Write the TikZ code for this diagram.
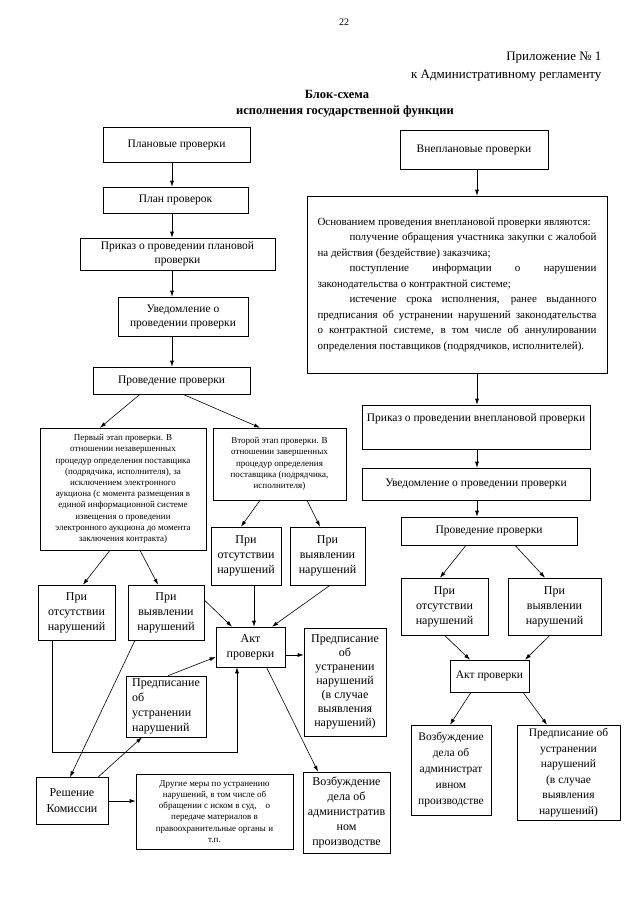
\documentclass[tikz,border=0pt]{standalone}
\usepackage{fontspec}
\setmainfont{Liberation Serif}
\usetikzlibrary{arrows.meta,calc}

\begin{document}
\begin{tikzpicture}[x=1pt,y=-1pt,
  box/.style={draw,line width=0.6pt,inner sep=2pt,align=center,font=\fontsize{11.5}{14}\selectfont},
  big/.style={box,font=\fontsize{12}{15}\selectfont},
  small/.style={box,font=\fontsize{9}{11.2}\selectfont},
  arr/.style={-{Latex[length=6pt,width=4pt]},line width=0.6pt}]
\useasboundingbox (0,0) rectangle (640,905);

% header
\node (pagenum) at (344,22) {\fontsize{10}{12}\selectfont 22};
\node[anchor=east,font=\fontsize{13}{15}\selectfont] (app1) at (605,58) {Приложение № 1};
\node[anchor=east,font=\fontsize{13}{15}\selectfont] (app2) at (605,76) {к Административному регламенту};
\node[font=\fontsize{12.5}{15}\bfseries] (title1) at (337,94) {Блок-схема};
\node[font=\fontsize{12.5}{15}\bfseries] (title2) at (345,112) {исполнения государственной функции};

% planned checks
\node[box,minimum width=147pt,minimum height=35pt] (plan1) at (176.5,144.5) {Плановые проверки};
\node[box,minimum width=145pt,minimum height=26pt] (planlist) at (175.5,200) {План проверок};
\node[box,minimum width=195pt,minimum height=32pt] (prikaz1) at (177.5,254) {Приказ о проведении плановой\\проверки};
\node[box,minimum width=130pt,minimum height=39pt] (uved1) at (183,316.5) {Уведомление о\\проведении проверки};
\node[box,minimum width=157pt,minimum height=27pt] (provl) at (171.5,380.5) {Проведение проверки};

\node[small,minimum width=166pt,minimum height=122pt] (stage1) at (123,489) {Первый этап проверки. В\\отношении незавершенных\\процедур определения поставщика\\(подрядчика, исполнителя), за\\исключением электронного\\аукциона (с момента размещения в\\единой информационной системе\\извещения о проведении\\электронного аукциона до момента\\заключения контракта)};
\node[small,minimum width=133pt,minimum height=72pt] (stage2) at (279.5,464) {Второй этап проверки. В\\отношении завершенных\\процедур определения\\поставщика (подрядчика,\\исполнителя)};

\node[big,minimum width=77pt,minimum height=55pt] (sl-ok) at (76.5,612.5) {При\\отсутствии\\нарушений};
\node[big,minimum width=76pt,minimum height=55pt] (sl-bad) at (166,612.5) {При\\выявлении\\нарушений};
\node[big,minimum width=70pt,minimum height=58pt] (sm-ok) at (246,556) {При\\отсутствии\\нарушений};
\node[big,minimum width=75pt,minimum height=58pt] (sm-bad) at (327.5,556) {При\\выявлении\\нарушений};

\node[big,minimum width=69pt,minimum height=40pt] (act1) at (250.5,647) {Акт\\проверки};
\node[big,font=\fontsize{12}{14}\selectfont,minimum width=82pt,minimum height=108pt] (presc1) at (345,682) {Предписание\\об\\устранении\\нарушений\\(в случае\\выявления\\нарушений)};
\node[big,font=\fontsize{12}{15}\selectfont,minimum width=87pt,minimum height=81pt] (vozb1) at (346.5,812.5) {Возбуждение\\дела об\\административ\\ном\\производстве};
\node[big,align=left,minimum width=80pt,minimum height=61pt] (presc2) at (166,706.5) {Предписание\\об\\устранении\\нарушений};
\node[big,font=\fontsize{12}{16}\selectfont,minimum width=72pt,minimum height=47pt] (decision) at (72,801) {Решение\\Комиссии};
\node[small,minimum width=157pt,minimum height=75pt] (other) at (214.5,811.5) {Другие меры по устранению\\нарушений, в том числе об\\обращении с иском в суд,\quad о\\передаче материалов в\\правоохранительные органы и\\т.п.};

% unplanned checks
\node[box,minimum width=148pt,minimum height=39pt] (unpl) at (474,149.5) {Внеплановые проверки};
\node[box,minimum width=300pt,minimum height=177pt] (basis) at (457,284.5) {\parbox{279pt}{\fontsize{11}{15.5}\selectfont\setlength{\parindent}{32pt}\hyphenpenalty=10000
\noindent Основанием проведения внеплановой проверки являются:\par
получение обращения участника закупки с жалобой\linebreak на действия (бездействие) заказчика;\par
поступление информации о нарушении\linebreak законодательства о контрактной системе;\par
истечение срока исполнения, ранее выданного\linebreak предписания об устранении нарушений законодательства\linebreak о контрактной системе, в том числе об аннулировании\linebreak определения поставщиков (подрядчиков, исполнителей).\par}};
\node[box,text depth=18pt,minimum width=228pt,minimum height=44pt] (prikaz2) at (476,427) {Приказ о проведении внеплановой проверки};
\node[box,minimum width=228pt,minimum height=32pt] (uved2) at (476,484) {Уведомление о проведении проверки};
\node[box,minimum width=176pt,minimum height=28pt] (prov2) at (489,531) {Проведение проверки};
\node[big,minimum width=87pt,minimum height=57pt] (r-ok) at (444.5,606.5) {При\\отсутствии\\нарушений};
\node[big,minimum width=93pt,minimum height=57pt] (r-bad) at (554.5,606.5) {При\\выявлении\\нарушений};
\node[box,minimum width=79pt,minimum height=32pt] (act2) at (489.5,676) {Акт проверки};
\node[box,font=\fontsize{11.5}{16}\selectfont,minimum width=80pt,minimum height=90pt] (vozb2) at (451,770) {Возбуждение\\дела об\\администрат\\ивном\\производстве};
\node[box,font=\fontsize{11.5}{15.5}\selectfont,minimum width=103pt,minimum height=95pt] (presc3) at (568.5,772.5) {Предписание об\\устранении\\нарушений\\(в случае\\выявления\\нарушений)};

\coordinate (lx) at (172,0);
\coordinate (rx) at (477,0);

\path[arr]
(plan1.south -| lx) edge (planlist.north -| lx)
(planlist.south -| lx) edge (prikaz1.north -| lx)
(prikaz1.south -| lx) edge (uved1.north -| lx)
(uved1.south -| lx) edge (provl.north -| lx)
($(provl.south)+(-31.5,0)$) edge ($(stage1.north)+(-23,0)$)
($(provl.south)+(11.5,0)$) edge ($(stage2.north)+(-19.5,0)$)
($(stage1.south)+(-13,0)$) edge ($(sl-ok.north)+(6.5,0)$)
($(stage1.south)+(17,0)$) edge ($(sl-bad.north)+(-8,0)$)
($(stage2.south)+(-19.5,0)$) edge ($(sm-ok.north)+(-5,0)$)
($(stage2.south)+(27.5,0)$) edge ($(sm-bad.north)+(-7.5,0)$)
;
\path[arr]
($(sl-bad.east)+(0,-12.5)$) edge ($(act1.north)+(-18.5,0)$)
($(sm-ok.south)+(8,0)$) edge ($(act1.north)+(3.5,0)$)
($(sm-bad.south)+(2.5,0)$) edge ($(act1.north)+(21.5,0)$)
($(act1.south)+(16,0)$) edge ($(vozb1.north)+(-28.5,0)$)
($(presc2.north)+(2,0)$) edge ($(act1.west)+(0,10)$)
($(sl-bad.south)+(-31,0)$) edge ($(decision.north)+(-2,0)$)
($(decision.north)+(26,0)$) edge ($(presc2.south)+(-24,0)$)
(decision.east) edge (decision.east -| other.west)
;
\draw[arr] ($(act1.east)+(0,8)$) coordinate (ae) -- (ae -| presc1.west);
\draw[arr] ($(sl-ok.south)+(-24.5,0)$) |- ($(act1.south)+(-13.5,85)$) -- ($(act1.south)+(-13.5,0)$);

\path[arr]
(unpl.south -| rx) edge (basis.north -| rx)
(basis.south -| rx) edge (prikaz2.north -| rx)
(prikaz2.south -| rx) edge (uved2.north -| rx)
(uved2.south -| rx) edge (prov2.north -| rx)
($(prov2.south)+(-23,0)$) edge ($(r-ok.north)+(-4.5,0)$)
($(prov2.south)+(26,0)$) edge ($(r-bad.north)+(-9.5,0)$)
(r-ok.south) edge ($(act2.north)+(-19.5,0)$)
($(r-bad.south)+(-4.5,0)$) edge ($(act2.north)+(35.5,0)$)
($(act2.south)+(-18.5,0)$) edge ($(vozb2.north)+(-1,0)$)
($(act2.south)+(33.5,0)$) edge ($(presc3.north)+(-21.5,0)$)
;
\end{tikzpicture}
\end{document}
